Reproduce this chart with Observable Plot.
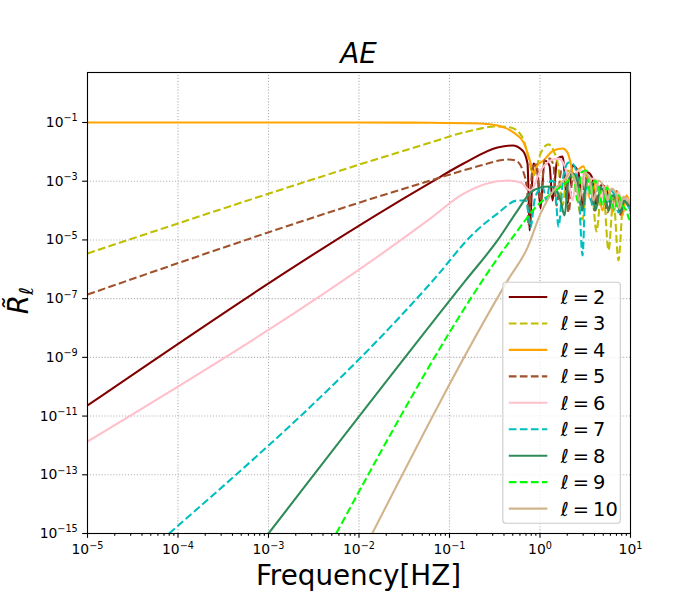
<!DOCTYPE html>
<html><head><meta charset="utf-8">
<script src="https://cdn.jsdelivr.net/npm/d3@7"></script>
<script src="https://cdn.jsdelivr.net/npm/@observablehq/plot@0.6"></script>
<style>body{margin:0;background:#fff;overflow:hidden;}</style>
</head><body><div id="chart"></div>
<script>
// ---- data: [frequency (Hz), R_l] ----
const ells = [2, 3, 4, 5, 6, 7, 8, 9, 10];
const colors = ["#800000", "#bfbf00", "#ffa500", "#a0522d", "#ffc0cb", "#00bfbf", "#2e8b57", "#00ff00", "#d2b48c"];
const dashed = [false, true, false, true, false, true, false, true, false];

const L2 = [[1e-5,2.3e-11],[0.0617,9.0e-4],[0.143,4.0e-3],[0.339,1.41e-2],[0.497,1.65e-2],[0.641,1.11e-2],[0.728,4.0e-3],[0.746,4.8e-4],[0.766,2.1e-5],[0.847,4.0e-3],[0.937,2.0e-3],[1.014,1.18e-4],[1.122,5.1e-3],[1.274,3.4e-3],[1.374,2.2e-4],[1.56,5.9e-3],[1.774,6.9e-3],[2.014,1.74e-4],[2.286,3.4e-3],[2.661,2.0e-3],[2.951,1.49e-4],[3.35,2.0e-3],[3.802,1.24e-3],[4.207,1.49e-4],[4.786,7.7e-4],[5.164,6.6e-4],[5.572,4.8e-4],[6.166,1.18e-4],[6.998,4.5e-4],[7.943,7.3e-5],[9.016,3.0e-4],[10,1.0e-4]];
const L3 = [[1e-5,3.45e-6],[0.0617,2.08e-2],[0.143,4.56e-2],[0.339,7.3e-2],[0.472,6.8e-2],[0.641,3.1e-2],[0.746,6.4e-3],[0.847,1.57e-3],[1.014,8.8e-3],[1.242,1.8e-2],[1.41,1.11e-2],[1.6,2.9e-3],[1.774,1.49e-4],[2.014,2.3e-3],[2.286,1.57e-3],[2.951,5.0e-5],[3.35,1.06e-3],[3.707,7.1e-4],[4.207,1.94e-5],[4.786,4.8e-4],[5.035,4.1e-4],[5.715,4.4e-6],[6.486,2.6e-4],[7.362,2.0e-6],[8.356,2.2e-4],[9.268,1.61e-4],[10,1.0e-4]];
const L4 = [[1e-5,0.1],[0.01,0.1],[0.0617,0.098],[0.22,0.092],[0.339,0.079],[0.509,0.046],[0.658,2.08e-2],[0.785,4.3e-3],[0.847,1.83e-3],[0.914,3.2e-3],[1.094,5.1e-3],[1.41,1.11e-2],[1.774,1.3e-2],[2.014,9.5e-3],[2.173,4.3e-3],[2.344,1.57e-3],[2.805,2.9e-3],[3.027,3.2e-3],[3.614,2.2e-4],[4.207,1.06e-3],[4.909,1.0e-4],[5.572,7.1e-4],[6.324,8.6e-5],[7.178,4.5e-4],[8.166,6.8e-5],[9.016,3.3e-4],[10,1.49e-4]];
const L5 = [[1e-5,1.38e-7],[0.0617,1.06e-3],[0.22,3.4e-3],[0.438,5.5e-3],[0.536,5.1e-3],[0.658,2.0e-3],[0.728,3.3e-4],[0.746,3.1e-5],[0.826,2.7e-3],[0.914,3.7e-3],[1.014,2.2e-4],[1.122,5.1e-3],[1.274,5.9e-3],[1.41,3.4e-3],[1.521,1.49e-4],[1.729,2.3e-3],[1.914,2.0e-3],[2.065,8.6e-5],[2.286,1.06e-3],[2.594,1.24e-3],[2.877,1.0e-4],[3.184,1.24e-3],[3.614,9.0e-4],[4.0,1.0e-4],[4.539,6.6e-4],[5.035,4.8e-4],[5.572,8.6e-5],[6.324,4.1e-4],[6.998,3.0e-4],[7.762,7.3e-5],[8.57,2.6e-4],[9.5,1.74e-4],[10,2.2e-4]];
const L6 = [[1e-5,1.36e-12],[0.0617,5.4e-5],[0.143,3.8e-4],[0.438,1.06e-3],[0.61,9.0e-4],[0.785,4.8e-4],[1.014,2.3e-3],[1.306,5.1e-3],[1.6,5.9e-3],[1.82,4.0e-3],[2.065,1.06e-3],[2.286,2.2e-4],[2.594,2.3e-3],[2.951,2.3e-3],[3.266,3.3e-4],[3.707,1.24e-3],[4.207,1.06e-3],[4.667,2.2e-4],[5.297,6.6e-4],[5.861,4.8e-4],[6.486,1.18e-4],[7.362,4.1e-4],[8.166,2.2e-4],[9.016,2.6e-4],[10,1.74e-4]];
const L7 = [[7.97e-5,1e-15],[0.070,5.2e-7],[0.184,1.66e-5],[0.339,7.9e-5],[0.564,2.2e-4],[0.692,2.2e-4],[0.746,7.9e-5],[0.785,2.65e-5],[0.869,2.2e-4],[0.962,4.8e-4],[1.067,6.6e-4],[1.18,2.2e-4],[1.306,1.06e-3],[1.445,9.0e-4],[1.6,2.87e-5],[1.82,1.57e-3],[2.065,4.3e-3],[2.344,3.7e-3],[2.661,6.6e-4],[2.951,2.95e-6],[3.184,4.8e-4],[3.436,7.1e-4],[3.802,1.49e-4],[4.315,6.1e-4],[4.909,6.6e-4],[5.433,1.49e-4],[6.012,4.8e-4],[6.653,3.3e-4],[7.362,8.6e-5],[8.166,2.2e-4],[9.016,1.74e-4],[10,1.0e-4]];
const L8 = [[1.0e-3,1e-15],[0.150,4.1e-7],[0.339,9.6e-6],[0.564,1.0e-4],[0.785,4.1e-4],[1.014,6.1e-4],[1.242,6.6e-4],[1.483,5.6e-4],[1.686,2.2e-4],[1.866,6.8e-5],[2.065,1.06e-3],[2.344,1.83e-3],[2.661,6.6e-4],[2.951,1.0e-4],[3.266,1.06e-3],[3.707,9.0e-4],[4.102,1.0e-4],[4.667,5.6e-4],[5.164,4.8e-4],[5.715,1.0e-4],[6.324,3.3e-4],[6.998,2.6e-4],[7.762,8.6e-5],[8.57,2.2e-4],[9.5,1.49e-4],[10,1.61e-4]];
const L9 = [[5.6e-3,1e-15],[0.536,1.66e-5],[0.891,1.27e-4],[1.483,4.8e-4],[2.065,1.06e-3],[2.344,1.57e-3],[2.594,2.2e-4],[2.877,2.0e-3],[3.266,2.3e-3],[3.614,3.3e-4],[4.0,1.06e-3],[4.426,6.6e-4],[4.909,1.49e-4],[5.433,6.1e-4],[6.012,3.3e-4],[6.653,1.0e-4],[7.362,3.3e-4],[8.166,1.49e-4],[9.016,1.0e-4],[9.75,5.0e-5],[10,8.6e-5]];
const L10 = [[0.014,1e-15],[0.438,4.1e-7],[0.728,5.5e-6],[1.014,7.9e-5],[1.41,4.8e-4],[1.914,1.24e-3],[2.173,2.0e-3],[2.466,9.0e-4],[2.729,2.2e-4],[3.105,2.0e-3],[3.524,1.24e-3],[3.899,2.2e-4],[4.426,1.06e-3],[5.035,6.6e-4],[5.572,2.2e-4],[6.166,5.6e-4],[6.823,4.1e-4],[7.551,1.18e-4],[8.356,3.0e-4],[9.268,2.2e-4],[10,1.61e-4]];
const series = [L2, L3, L4, L5, L6, L7, L8, L9, L10];

// ---- ticks ----
const xMajor = [1e-5, 1e-4, 1e-3, 1e-2, 1e-1, 1, 10];
const yMajor = [1e-15, 1e-13, 1e-11, 1e-9, 1e-7, 1e-5, 1e-3, 1e-1];
const xMinor = [];
for (let e = -5; e < 1; e++) for (let k = 2; k <= 9; k++) xMinor.push(k * 10 ** e);
const fmt = v => "10^" + Math.round(Math.log10(v));

const titleText = "AE";
const xLabel = "Frequency[HZ]";
const DASH = "7.7,3.33";
const LW = 2.08;

const gridStyle = {stroke: "#b0b0b0", strokeOpacity: 1, strokeWidth: 1.1, strokeDasharray: "1.1,1.83"};

const marks = [
  Plot.gridX(xMajor, gridStyle),
  Plot.gridY(yMajor, gridStyle),
  Plot.axisX(xMinor, {tickSize: 2.78, tickFormat: () => "", label: null, strokeWidth: 1.1}),
  Plot.axisX(xMajor, {tickSize: 4.86, tickPadding: 6, tickFormat: fmt, fontSize: 13.9, label: null, strokeWidth: 1.1}),
  Plot.axisY(yMajor, {tickSize: 4.86, tickPadding: 4.86, tickFormat: fmt, fontSize: 13.9, label: null, strokeWidth: 1.1}),
];
series.forEach((s, i) => {
  marks.push(Plot.line(s, {
    x: d => d[0], y: d => d[1], stroke: colors[i], strokeWidth: LW,
    strokeDasharray: dashed[i] ? DASH : null,
    strokeLinecap: dashed[i] ? "butt" : "square",
    curve: "monotone-x", clip: true
  }));
});
marks.push(Plot.frame({stroke: "#000", strokeWidth: 1.1}));

const chart = Plot.plot({
  width: 700, height: 600,
  marginLeft: 87, marginRight: 70, marginTop: 72, marginBottom: 67,
  style: {fontFamily: "DejaVu Sans", background: "#fff", color: "#000"},
  x: {type: "log", domain: [1e-5, 10]},
  y: {type: "log", domain: [1e-15, 5.05]},
  marks
});
document.getElementById("chart").appendChild(chart);

const svg = d3.select(chart);
// superscript tick labels
svg.selectAll("text").each(function () {
  const m = /^10\^(-?\d+)$/.exec(this.textContent);
  if (!m) return;
  const n = +m[1];
  const t = d3.select(this);
  t.text("10");
  t.append("tspan").attr("font-size", 9.7).attr("dy", -5.5).text(n < 0 ? "\u2212" + (-n) : String(n));
});

const [x0, x1] = chart.scale("x").range;
const [yb, yt] = chart.scale("y").range;
const cx = (x0 + x1) / 2, cy = (yb + yt) / 2;

svg.append("text").attr("x", cx).attr("y", yt - 9).attr("text-anchor", "middle")
  .attr("font-size", 27.8).attr("font-style", "italic").attr("font-family", "DejaVu Sans").text(titleText);
svg.append("text").attr("x", cx).attr("y", yb + 52).attr("text-anchor", "middle")
  .attr("font-size", 27.8).attr("font-family", "DejaVu Sans").text(xLabel);
const yl = svg.append("text").attr("transform", `translate(28,${cy - 2}) rotate(-90)`)
  .attr("text-anchor", "middle").attr("font-size", 27.8).attr("font-family", "DejaVu Sans").attr("font-style", "italic");
yl.append("tspan").text("R\u0303");
yl.append("tspan").attr("font-size", 19.5).attr("dy", 5).text("\u2113");

// legend
const fs = 19.4, rowH = 26.45, pad = 9.7;
const lw = 117.5, lh = 14.7 * 2 + rowH * (ells.length - 1);
const lx = x1 - pad - lw, ly = yb - pad - lh;
const lg = svg.append("g").attr("font-family", "DejaVu Sans").attr("text-anchor", "start");
lg.append("rect").attr("x", lx).attr("y", ly).attr("width", lw).attr("height", lh)
  .attr("rx", 3).attr("fill", "#fff").attr("fill-opacity", 0.8).attr("stroke", "#cccccc").attr("stroke-width", 1.1);
ells.forEach((l, i) => {
  const ry = ly + 14.7 + i * rowH;
  lg.append("line").attr("x1", lx + 6).attr("x2", lx + 44.5).attr("y1", ry).attr("y2", ry)
    .attr("stroke", colors[i]).attr("stroke-width", LW)
    .attr("stroke-dasharray", dashed[i] ? DASH : null);
  const t = lg.append("text").attr("x", lx + 58).attr("y", ry).attr("dy", "0.36em")
    .attr("font-size", fs).attr("text-anchor", "start");
  t.append("tspan").attr("font-style", "italic").text("\u2113");
  t.append("tspan").attr("dx", 4).text("=");
  t.append("tspan").attr("dx", 4).text(String(l));
});
</script>
</body></html>
